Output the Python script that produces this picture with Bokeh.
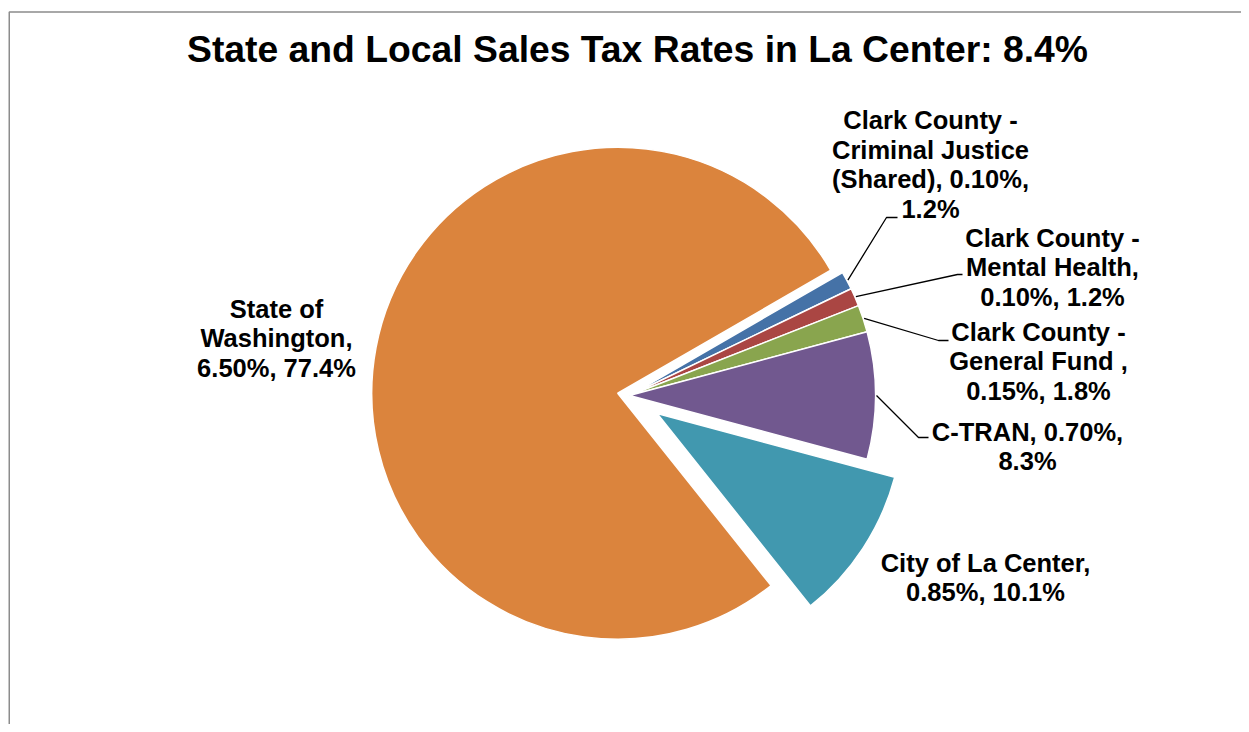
import numpy as np
from bokeh.plotting import figure
from bokeh.models import Range1d
from bokeh.core.properties import value
from bokeh.embed import file_html
from bokeh.resources import INLINE

# ---------------- data ----------------
title_text = "State and Local Sales Tax Rates in La Center: 8.4%"
categories = [
    "Clark County - Criminal Justice (Shared)",
    "Clark County - Mental Health",
    "Clark County - General Fund ",
    "C-TRAN",
    "City of La Center",
    "State of Washington",
]
rates = [0.10, 0.10, 0.15, 0.70, 0.85, 6.50]          # percent
rate_labels = ["0.10%", "0.10%", "0.15%", "0.70%", "0.85%", "6.50%"]
share_labels = ["1.2%", "1.2%", "1.8%", "8.3%", "10.1%", "77.4%"]
label_texts = [
    "Clark County -\nCriminal Justice\n(Shared), 0.10%,\n1.2%",
    "Clark County -\nMental Health,\n0.10%, 1.2%",
    "Clark County -\nGeneral Fund ,\n0.15%, 1.8%",
    "C-TRAN, 0.70%,\n8.3%",
    "City of La Center,\n0.85%, 10.1%",
    "State of\nWashington,\n6.50%, 77.4%",
]

# ---------------- style / layout ----------------
colors = ["#4572A7", "#AA4643", "#89A54E", "#71588F", "#4198AF", "#DB843D"]
explode = np.array([0, 0, 0, 0, 33, 12], dtype=float)   # px
center_x, center_y = 629.0, 395.0                        # screen px
radius = 246.0
first_angle_deg = 30.0
# label block centres (screen px)
label_pos = [(930, 164), (1052, 267), (1038, 361), (1027, 446), (985, 577), (276, 338)]
# leader line elbows (screen px): (elbow_x, elbow_y, end_x)
leaders = {0: (886, 217, 897), 1: (957, 274, 962), 2: (938, 340, 948), 3: (918, 437, 928)}

W, H = 1241, 724
p = figure(width=W, height=H,
           x_range=Range1d(0, W), y_range=Range1d(-H, 0),
           output_backend="svg", toolbar_location=None, min_border=0,
           x_axis_type=None, y_axis_type=None,
           outline_line_color=None,
           background_fill_color="white", border_fill_color="white")
p.xgrid.visible = False
p.ygrid.visible = False

# chart-area border (top and left edges visible)
p.line(x=[8.75, 8.75, W + 10], y=[-H - 10, -11.5, -11.5], line_color="#8c8c8c", line_width=1.5)

# pie
vals = np.array(rates, dtype=float)
frac = vals / vals.sum()
cum = np.concatenate([[0.0], np.cumsum(frac)]) * 2 * np.pi
a0 = np.deg2rad(first_angle_deg)
ends = a0 - cum[:-1]
starts = a0 - cum[1:]
mids = (starts + ends) / 2
cxs = center_x + explode * np.cos(mids)
cys = -center_y + explode * np.sin(mids)

p.wedge(x=cxs, y=cys, radius=radius, start_angle=starts, end_angle=ends,
        fill_color=colors, line_color="white", line_width=1.5)

# leader lines
for i, (ex, ey, endx) in leaders.items():
    sx = cxs[i] + (radius + 1) * np.cos(mids[i])
    sy = cys[i] + (radius + 1) * np.sin(mids[i])
    p.line(x=[sx, ex, endx], y=[sy, -ey, -ey], line_color="black", line_width=1.3)

# data labels
p.text(x=[lp[0] for lp in label_pos], y=[-lp[1] for lp in label_pos], text=label_texts,
       text_align="center", text_baseline="middle",
       text_font=value("Liberation Sans"), text_font_style="bold",
       text_font_size="25.5px", text_line_height=1.055, text_color="black")

# title
p.text(x=[637], y=[-48], text=[title_text], text_align="center", text_baseline="middle",
       text_font=value("Liberation Sans"), text_font_style="bold",
       text_font_size="37.3px", text_color="black")

open("out.html", "w").write(file_html(p, INLINE))
